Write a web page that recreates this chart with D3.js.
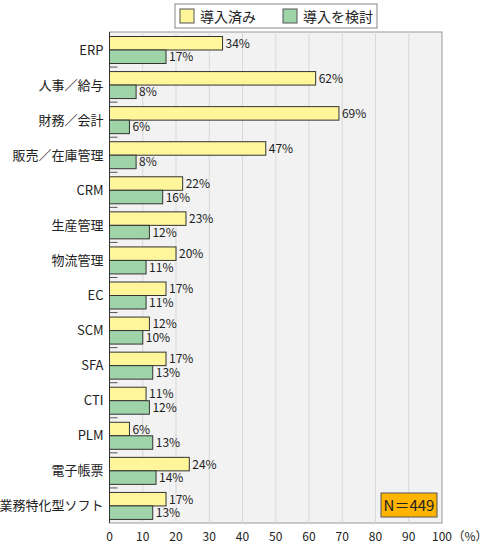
<!DOCTYPE html>
<html><head><meta charset="utf-8">
<script src="https://cdn.jsdelivr.net/npm/d3@7"></script>
<style>body{margin:0;background:#fff;font-family:"Noto Sans CJK JP",sans-serif}</style>
</head><body><svg id="c" width="490" height="550"></svg>
<script>
// データ
const categories = ["ERP","人事／給与","財務／会計","販売／在庫管理","CRM","生産管理","物流管理","EC","SCM","SFA","CTI","PLM","電子帳票","業務特化型ソフト"];
const adopted = [34,62,69,47,22,23,20,17,12,17,11,6,24,17];
const considering = [17,8,6,8,16,12,11,11,10,13,12,13,14,13];
const seriesNames = ["導入済み","導入を検討"];
const colors = ["#fff59a","#9fd3a8"];
const ticks = [0,10,20,30,40,50,60,70,80,90,100];

const svg = d3.select("#c");
const pLeft = 109.5, pRight = 442, pTop = 32, pBottom = 523;
const x = d3.scaleLinear().domain([0,100]).range([pLeft,pRight]);
const y = d3.scaleBand().domain(categories).range([pTop,pBottom]);
const font = "'Noto Sans CJK JP', sans-serif";

// 背景
svg.append("rect").attr("x",pLeft).attr("y",pTop).attr("width",pRight-pLeft).attr("height",pBottom-pTop)
  .attr("fill","#f2f2f2").attr("stroke","#999");

// グリッド
svg.append("g").selectAll("line").data(ticks.slice(1,-1)).enter().append("line")
  .attr("x1",d=>x(d)).attr("x2",d=>x(d)).attr("y1",pTop).attr("y2",pBottom)
  .attr("stroke","#d8d8d8");

// カテゴリ区切りの目盛り
svg.append("g").selectAll("line").data(categories.slice(1)).enter().append("line")
  .attr("x1",pLeft).attr("x2",pLeft+8).attr("y1",d=>y(d)).attr("y2",d=>y(d))
  .attr("stroke","#555");
svg.append("line").attr("x1",pLeft).attr("x2",pLeft).attr("y1",pTop).attr("y2",pBottom).attr("stroke","#333");

const bh = 13.5;
[adopted, considering].forEach((vals, s) => {
  const g = svg.append("g");
  g.selectAll("rect").data(vals).enter().append("rect")
    .attr("x",pLeft).attr("y",(d,i)=>y(categories[i])+4.5+s*bh)
    .attr("width",d=>x(d)-pLeft).attr("height",bh)
    .attr("fill",colors[s]).attr("stroke","#333").attr("stroke-width",1);
  g.selectAll("text").data(vals).enter().append("text")
    .attr("x",d=>x(d)+3).attr("y",(d,i)=>y(categories[i])+4.5+s*bh+bh/2+4.5)
    .attr("font-size",12).attr("font-family",font).attr("fill","#222").text(d=>d+"%");
});

// カテゴリラベル
svg.append("g").selectAll("text").data(categories).enter().append("text")
  .attr("x",pLeft-6).attr("y",d=>y(d)+y.bandwidth()/2+5).attr("text-anchor","end")
  .attr("font-size",13).attr("font-family",font).attr("fill","#222").text(d=>d);

// x 軸ラベル
svg.append("g").selectAll("text").data(ticks).enter().append("text")
  .attr("x",d=>x(d)).attr("y",541).attr("text-anchor","middle")
  .attr("font-size",12).attr("font-family",font).attr("fill","#222").text(d=>d);
svg.append("text").attr("x",x(100)+28).attr("y",541).attr("text-anchor","middle")
  .attr("font-size",12).attr("font-family",font).attr("fill","#222").text("（%）");

// 凡例
const lg = svg.append("g");
lg.append("rect").attr("x",175).attr("y",4).attr("width",202).attr("height",24).attr("fill","#fff").attr("stroke","#888");
seriesNames.forEach((n,i)=>{
  const lx = 180 + i*103;
  lg.append("rect").attr("x",lx).attr("y",9).attr("width",14).attr("height",14).attr("fill",colors[i]).attr("stroke","#555");
  lg.append("text").attr("x",lx+20).attr("y",22).attr("font-size",14).attr("font-family",font).attr("fill","#222").text(n);
});

// N
svg.append("rect").attr("x",381).attr("y",493).attr("width",56).attr("height",24).attr("fill","#ffb400").attr("stroke","#555");
svg.append("text").attr("x",409).attr("y",511).attr("text-anchor","middle").attr("font-size",15)
  .attr("font-family",font).attr("fill","#222").text("N＝449");
</script></body></html>
